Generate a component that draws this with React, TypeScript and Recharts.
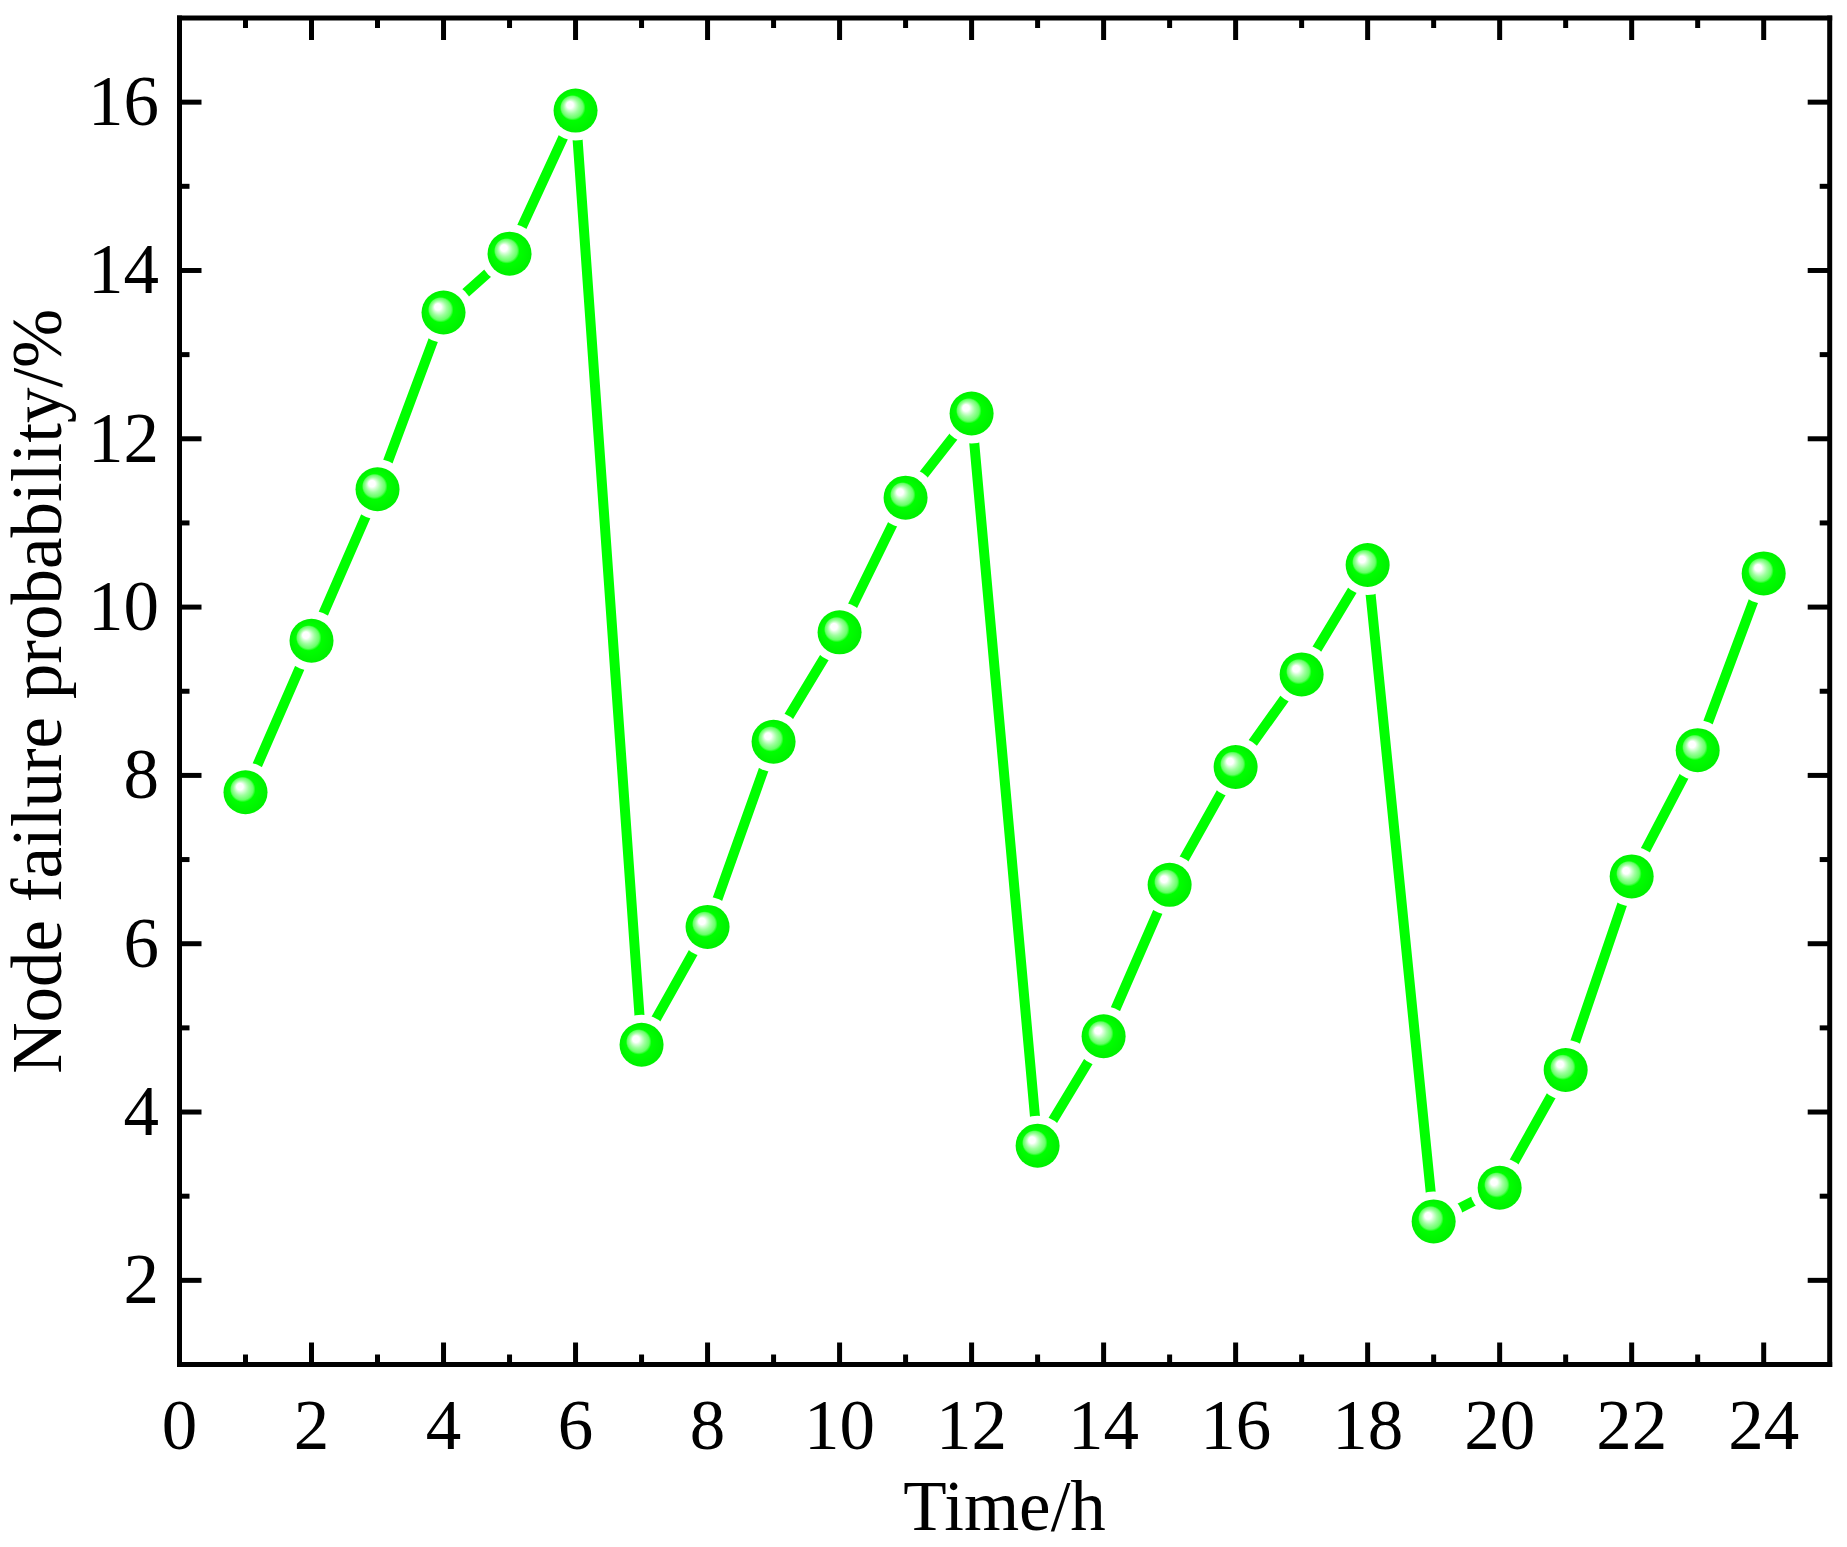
import { LineChart, Line, XAxis, YAxis } from 'recharts';

const hours = [1, 2, 3, 4, 5, 6, 7, 8, 9, 10, 11, 12, 13, 14, 15, 16, 17, 18, 19, 20, 21, 22, 23, 24];
const failureProb = [
  7.8, 9.6, 11.4, 13.5, 14.2, 15.9, 4.8, 6.2, 8.4, 9.7, 11.3, 12.3,
  3.6, 4.9, 6.7, 8.1, 9.2, 10.5, 2.7, 3.1, 4.5, 6.8, 8.3, 10.4,
];

const xTicks = [0, 1, 2, 3, 4, 5, 6, 7, 8, 9, 10, 11, 12, 13, 14, 15, 16, 17, 18, 19, 20, 21, 22, 23, 24];
const xLabels = [0, 2, 4, 6, 8, 10, 12, 14, 16, 18, 20, 22, 24];
const yTicks = [2, 3, 4, 5, 6, 7, 8, 9, 10, 11, 12, 13, 14, 15, 16];
const yLabels = [2, 4, 6, 8, 10, 12, 14, 16];

const data = hours.map((h, i) => ({ hour: h, p: failureProb[i] }));

const FONT = "'Liberation Serif', 'Times New Roman', Times, serif";
const FONT_SIZE = 71;
const MAJOR = 22;
const MINOR = 10;
const AXIS_W = 5;

// ticks point inward on all four sides
const BottomTick = (props: any) => {
  const { x, y, payload } = props;
  const major = xLabels.includes(payload.value);
  return (
    <g>
      <line x1={x} y1={y} x2={x} y2={y - (major ? MAJOR : MINOR)} stroke="#000" strokeWidth={AXIS_W} />
      {major && (
        <text x={x} y={y + 84.5} textAnchor="middle" fontFamily={FONT} fontSize={FONT_SIZE} fill="#000">
          {payload.value}
        </text>
      )}
    </g>
  );
};

const TopTick = (props: any) => {
  const { x, y, payload } = props;
  const major = xLabels.includes(payload.value);
  return <line x1={x} y1={y} x2={x} y2={y + (major ? MAJOR : MINOR)} stroke="#000" strokeWidth={AXIS_W} />;
};

const LeftTick = (props: any) => {
  const { x, y, payload } = props;
  const major = yLabels.includes(payload.value);
  return (
    <g>
      <line x1={x} y1={y} x2={x + (major ? MAJOR : MINOR)} y2={y} stroke="#000" strokeWidth={AXIS_W} />
      {major && (
        <text x={x - 20.5} y={y + 23} textAnchor="end" fontFamily={FONT} fontSize={FONT_SIZE} fill="#000">
          {payload.value}
        </text>
      )}
    </g>
  );
};

const RightTick = (props: any) => {
  const { x, y, payload } = props;
  const major = yLabels.includes(payload.value);
  return <line x1={x} y1={y} x2={x - (major ? MAJOR : MINOR)} y2={y} stroke="#000" strokeWidth={AXIS_W} />;
};

const Ball = (props: any) => {
  const { cx, cy, index } = props;
  return (
    <g key={`ball-${index}`}>
      <circle cx={cx} cy={cy} r={30} fill="#fff" />
      <circle cx={cx} cy={cy} r={22} fill="url(#ballGrad)" />
    </g>
  );
};

const xTitle = (props: any) => {
  const vb = props.viewBox || { x: 179.5, y: 1364.5, width: 1650, height: 150 };
  return (
    <text x={vb.x + vb.width / 2} y={vb.y + 165.5} textAnchor="middle" fontFamily={FONT} fontSize={FONT_SIZE} fill="#000">
      Time/h
    </text>
  );
};

const yTitle = (props: any) => {
  const vb = props.viewBox || { x: 29.5, y: 18, width: 150, height: 1346.5 };
  const cx = vb.x + 31.5;
  const cy = vb.y + vb.height / 2;
  return (
    <text x={cx} y={cy} transform={`rotate(-90, ${cx}, ${cy})`} textAnchor="middle" fontFamily={FONT} fontSize={FONT_SIZE} fill="#000">
      Node failure probability/%
    </text>
  );
};

const axisLine = { stroke: '#000', strokeWidth: AXIS_W, strokeLinecap: 'square' as const };

export default function App() {
  return (
    <div style={{ position: 'absolute', left: 0, top: 0, background: '#fff' }}>
      <LineChart width={1847} height={1547} data={data} margin={{ top: 17, right: 16.3, bottom: 32.5, left: 29.5 }}>
        <defs>
          <radialGradient id="ballGrad" cx="0.5" cy="0.5" r="0.5" fx="0.35" fy="0.35">
            <stop offset="0" stopColor="#ffffff" />
            <stop offset="0.15" stopColor="#ffffff" />
            <stop offset="0.24" stopColor="#d0ffd0" />
            <stop offset="0.34" stopColor="#a0ffa0" />
            <stop offset="0.5" stopColor="#66ff66" />
            <stop offset="0.58" stopColor="#00ff00" />
            <stop offset="1" stopColor="#00f000" />
          </radialGradient>
        </defs>
        <XAxis
          xAxisId={0}
          dataKey="hour"
          type="number"
          domain={[0, 25]}
          ticks={xTicks}
          interval={0}
          height={150}
          tickSize={0}
          tickMargin={0}
          tickLine={false}
          axisLine={axisLine}
          tick={BottomTick}
          label={xTitle}
        />
        <XAxis
          xAxisId="top"
          orientation="top"
          dataKey="hour"
          type="number"
          domain={[0, 25]}
          ticks={xTicks}
          interval={0}
          height={1}
          tickSize={0}
          tickMargin={0}
          tickLine={false}
          axisLine={axisLine}
          tick={TopTick}
        />
        <YAxis
          yAxisId={0}
          type="number"
          domain={[1, 17]}
          ticks={yTicks}
          interval={0}
          width={150}
          tickSize={0}
          tickMargin={0}
          tickLine={false}
          axisLine={axisLine}
          tick={LeftTick}
          label={yTitle}
        />
        <YAxis
          yAxisId="right"
          orientation="right"
          type="number"
          domain={[1, 17]}
          ticks={yTicks}
          interval={0}
          width={1}
          tickSize={0}
          tickMargin={0}
          tickLine={false}
          axisLine={axisLine}
          tick={RightTick}
        />
        {/* invisible twin so the mirrored top/right axes get their ticks */}
        <Line
          xAxisId="top"
          yAxisId="right"
          type="linear"
          dataKey="p"
          stroke="none"
          dot={false}
          activeDot={false}
          isAnimationActive={false}
        />
        <Line
          xAxisId={0}
          yAxisId={0}
          type="linear"
          dataKey="p"
          stroke="#00ff00"
          strokeWidth={10}
          dot={Ball}
          activeDot={false}
          isAnimationActive={false}
        />
      </LineChart>
    </div>
  );
}
